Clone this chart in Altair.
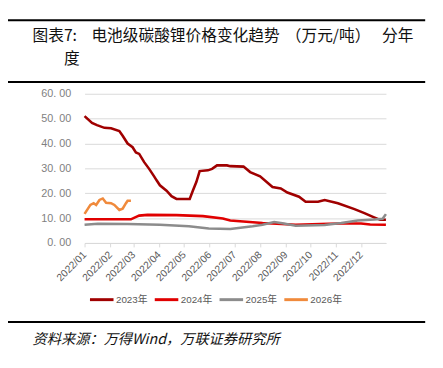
import altair as alt
import pandas as pd

series = ["2023年", "2024年", "2025年", "2026年"]
colors = ["#A00000", "#E00000", "#8C8C8C", "#F08A3C"]

# x = day offset from 2022-01-01, y = price (万元/吨)
days_2023 = [0, 9, 15, 24, 32, 42, 46, 52, 58, 62, 66, 72, 78, 84, 87, 91, 99, 105, 111, 127,
             131, 135, 139, 149, 154, 160, 172, 176, 192, 200, 212, 227, 237, 245, 259, 267,
             282, 290, 306, 326, 338, 349, 357, 364]
vals_2023 = [51.0, 48.3, 47.4, 46.3, 46.1, 45.0, 43.1, 40.0, 38.5, 36.4, 35.8, 32.5, 29.8, 26.8,
             25.2, 23.2, 21.0, 18.8, 17.7, 17.7, 21.2, 24.5, 28.9, 29.2, 29.8, 31.2, 31.2, 30.9,
             30.7, 28.5, 26.8, 22.5, 21.9, 20.3, 18.6, 16.6, 16.6, 17.3, 16.0, 13.6, 12.0, 10.4,
             9.3, 9.3]

days_2024 = [0, 56, 61, 66, 76, 111, 143, 167, 176, 215, 255, 295, 310, 334, 345, 364]
vals_2024 = [9.5, 9.5, 10.3, 11.0, 11.3, 11.2, 10.8, 9.8, 9.0, 8.0, 7.3, 7.7, 7.8, 7.8, 7.4, 7.3]

days_2025 = [0, 16, 52, 91, 126, 150, 176, 203, 215, 229, 239, 255, 290, 310, 330, 350, 360, 364]
vals_2025 = [7.3, 7.7, 7.6, 7.3, 6.7, 5.8, 5.6, 6.7, 7.3, 8.4, 7.9, 6.9, 7.2, 8.0, 9.0, 9.4, 9.7, 11.6]

days_2026 = [0, 7, 11, 14, 18, 22, 26, 32, 36, 42, 46, 50, 52, 56]
vals_2026 = [11.7, 15.3, 16.0, 15.3, 17.3, 17.9, 16.2, 16.0, 15.3, 13.3, 13.8, 16.0, 17.0, 17.0]

y_ticks = [0, 10, 20, 30, 40, 50, 60]

title_a = "图表7:"
title_b = "电池级碳酸锂价格变化趋势"
title_unit = "（万元/吨）"
title_c = "分年"
title_2 = "度"
source = "资料来源：万得Wind，万联证券研究所"

rows = []
start = pd.Timestamp("2022-01-01")
for name, ds, vs in [(series[0], days_2023, vals_2023), (series[1], days_2024, vals_2024),
                     (series[2], days_2025, vals_2025), (series[3], days_2026, vals_2026)]:
    for d, v in zip(ds, vs):
        rows.append({"series": name,
                     "date": (start + pd.Timedelta(days=d)).strftime("%Y-%m-%d"),
                     "value": v})
df = pd.DataFrame(rows)

FONT = "Liberation Sans, Noto Sans CJK SC"

lines = alt.Chart(df).mark_line(strokeWidth=2.6).encode(
    x=alt.X("date:T",
            scale=alt.Scale(type="utc", nice=False,
                            domain=[alt.DateTime(year=2022, month=1, date=1, utc=True),
                                    alt.DateTime(year=2022, month=12, date=31, utc=True)]),
            axis=alt.Axis(title=None, format="%Y/%m", tickCount="month", labelAngle=-45,
                          labelAlign="right", labelBaseline="middle", labelFontSize=10.5,
                          labelColor="#595959", labelFont=FONT, domainColor="#d9d9d9",
                          tickColor="#d9d9d9", tickSize=4, grid=False, labelPadding=6,
                          labelOverlap=False)),
    y=alt.Y("value:Q", scale=alt.Scale(domain=[0, 60]),
            axis=alt.Axis(title=None, values=y_ticks,
                          labelExpr="replace(format(datum.value, '.2f'), '.', '. ')",
                          domain=False, ticks=False, gridColor="#d9d9d9", labelColor="#7f7f7f",
                          labelFontSize=11, labelFont=FONT, labelPadding=14)),
    color=alt.Color("series:N", scale=alt.Scale(domain=series, range=colors),
                    legend=alt.Legend(title=None, orient="none", legendX=4, legendY=196,
                                      direction="horizontal", symbolType="stroke",
                                      symbolSize=576, symbolStrokeWidth=3, labelFontSize=10,
                                      labelColor="#595959", labelFont=FONT, columnPadding=0,
                                      labelOffset=1)),
)

one = pd.DataFrame({"k": [0]})


def hrule(yv):
    return alt.Chart(one).mark_rule(color="black", strokeWidth=2).encode(
        x=alt.value(-78), x2=alt.value(347), y=alt.value(yv))


def label(txt, xv, yv, size, style="normal"):
    return alt.Chart(one).mark_text(align="left", baseline="middle", fontSize=size,
                                    font="Noto Sans CJK SC", color="#111111",
                                    fontStyle=style).encode(
        x=alt.value(xv), y=alt.value(yv), text=alt.value(txt))


chart = alt.layer(
    lines,
    hrule(-75), hrule(-12), hrule(232.5),
    label(title_a, -53, -59, 16),
    label(title_b, 7, -59, 16),
    label(title_unit, 205, -59, 16),
    label(title_c, 303, -59, 16),
    label(title_2, -21, -35, 16),
    label(source, -53, 251, 14.5, "italic"),
).properties(
    width=307, height=152, autosize="none",
    padding={"left": 78, "top": 84, "right": 50, "bottom": 124},
).configure_view(stroke=None)

chart.save("out.html", embed_options={"renderer": "svg", "actions": False})
